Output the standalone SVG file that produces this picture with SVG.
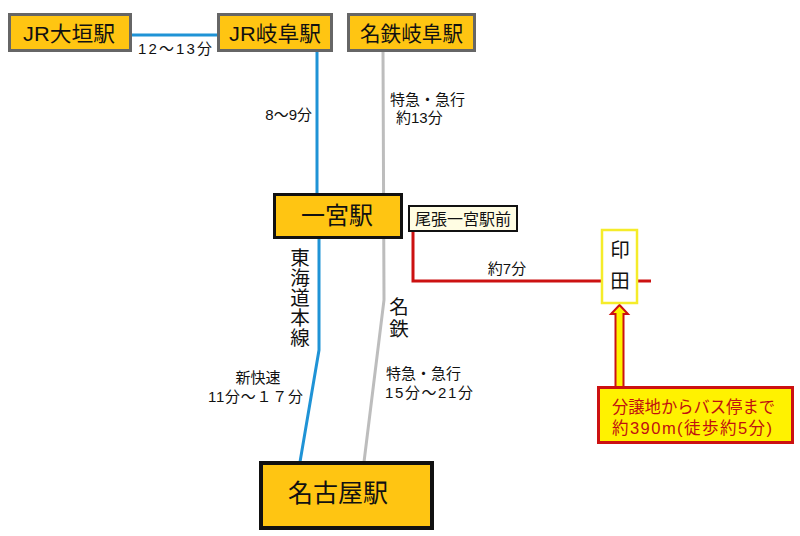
<svg xmlns="http://www.w3.org/2000/svg" width="800" height="536" viewBox="0 0 800 536">
<style>
text{font-family:"Liberation Sans","Noto Sans CJK JP",sans-serif;fill:#111;}
.st{fill:#FFC512;}
.top{stroke:#666;stroke-width:3;}
.blk{stroke:#111;}
.lbl{font-size:15px;}
.big{font-size:21px;}
.vt{font-size:19.5px;text-anchor:middle;}
.c{text-anchor:middle;}
.jr{fill:none;stroke:#1F93D6;stroke-width:3;}
.mt{fill:none;stroke:#BDBDBD;stroke-width:3;}
.bus{fill:none;stroke:#CC1111;stroke-width:3;}
.red{font-size:16.5px;fill:#C01010;}
</style>
<rect width="800" height="536" fill="#fff"/>
<g id="connectors">
<line class="jr" x1="132" y1="35" x2="217" y2="35"/>
<polyline class="jr" points="317,52 317,193"/>
<polyline class="jr" points="319,239 319,350 300,462"/>
<polyline class="mt" points="383,52 384,300 364,462"/>
<polyline class="bus" points="413,232 413,281 602,281"/>
<line class="bus" x1="637" y1="281" x2="651" y2="281"/>
<path d="M619.5,305 L628,314 L623.5,314 L623.5,388 L615.5,388 L615.5,314 L611,314 Z" fill="#FFF200" stroke="#CC1111" stroke-width="2" stroke-linejoin="miter"/>
<text class="lbl c" x="175" y="54" textLength="74" lengthAdjust="spacing">12～13分</text>
<text class="lbl" x="312" y="120" text-anchor="end">8～9分</text>
<text class="lbl" x="390" y="105">特急・急行</text>
<text class="lbl" x="396" y="123">約13分</text>
<text class="lbl c" x="507" y="274">約7分</text>
<text class="vt" x="300" y="265">東</text>
<text class="vt" x="300" y="285">海</text>
<text class="vt" x="300" y="305">道</text>
<text class="vt" x="300" y="325">本</text>
<text class="vt" x="300" y="345">線</text>
<text class="vt" x="399" y="314">名</text>
<text class="vt" x="399" y="336">鉄</text>
<text class="lbl c" x="258" y="383">新快速</text>
<text class="lbl" x="208" y="402" textLength="95" lengthAdjust="spacing">11分～１７分</text>
<text class="lbl" x="386" y="379">特急・急行</text>
<text class="lbl" x="385" y="398" textLength="88" lengthAdjust="spacing">15分～21分</text>
</g>
<g id="jr-ogaki">
<rect class="st top" x="9.5" y="14.5" width="121" height="36"/>
<text class="big c" x="69" y="40.5" textLength="92" lengthAdjust="spacingAndGlyphs">JR大垣駅</text>
</g>
<g id="jr-gifu">
<rect class="st top" x="218.5" y="14.5" width="113" height="36"/>
<text class="big c" x="275" y="40.5" textLength="92" lengthAdjust="spacingAndGlyphs">JR岐阜駅</text>
</g>
<g id="meitetsu-gifu">
<rect class="st top" x="348.5" y="14.5" width="126" height="36"/>
<text class="big c" x="411.5" y="40.5" textLength="103" lengthAdjust="spacingAndGlyphs">名鉄岐阜駅</text>
</g>
<g id="ichinomiya">
<rect class="st blk" x="274.5" y="194.5" width="127" height="43" stroke-width="3"/>
<text class="c" x="337" y="224" font-size="24">一宮駅</text>
</g>
<g id="owari-ichinomiya">
<rect x="409" y="206" width="108" height="25" fill="#FFFDE3" stroke="#111" stroke-width="2"/>
<text class="c" x="463" y="224.5" font-size="16">尾張一宮駅前</text>
</g>
<g id="inden">
<rect x="602" y="230" width="35" height="73" fill="#fff" stroke="#F5EC2A" stroke-width="2.5"/>
<text class="vt" x="620" y="257">印</text>
<text class="vt" x="620" y="288">田</text>
</g>
<g id="nagoya">
<rect class="st blk" x="261" y="463" width="171" height="65" stroke-width="4"/>
<text class="c" x="338" y="502" font-size="25">名古屋駅</text>
</g>
<g id="callout">
<rect x="598.5" y="387.5" width="194" height="55" fill="#FFF200" stroke="#CC1111" stroke-width="3"/>
<text class="red" x="612" y="413" textLength="163" lengthAdjust="spacingAndGlyphs">分譲地からバス停まで</text>
<text class="red" x="612" y="434" textLength="160" lengthAdjust="spacing">約390m(徒歩約5分)</text>
</g>
</svg>
